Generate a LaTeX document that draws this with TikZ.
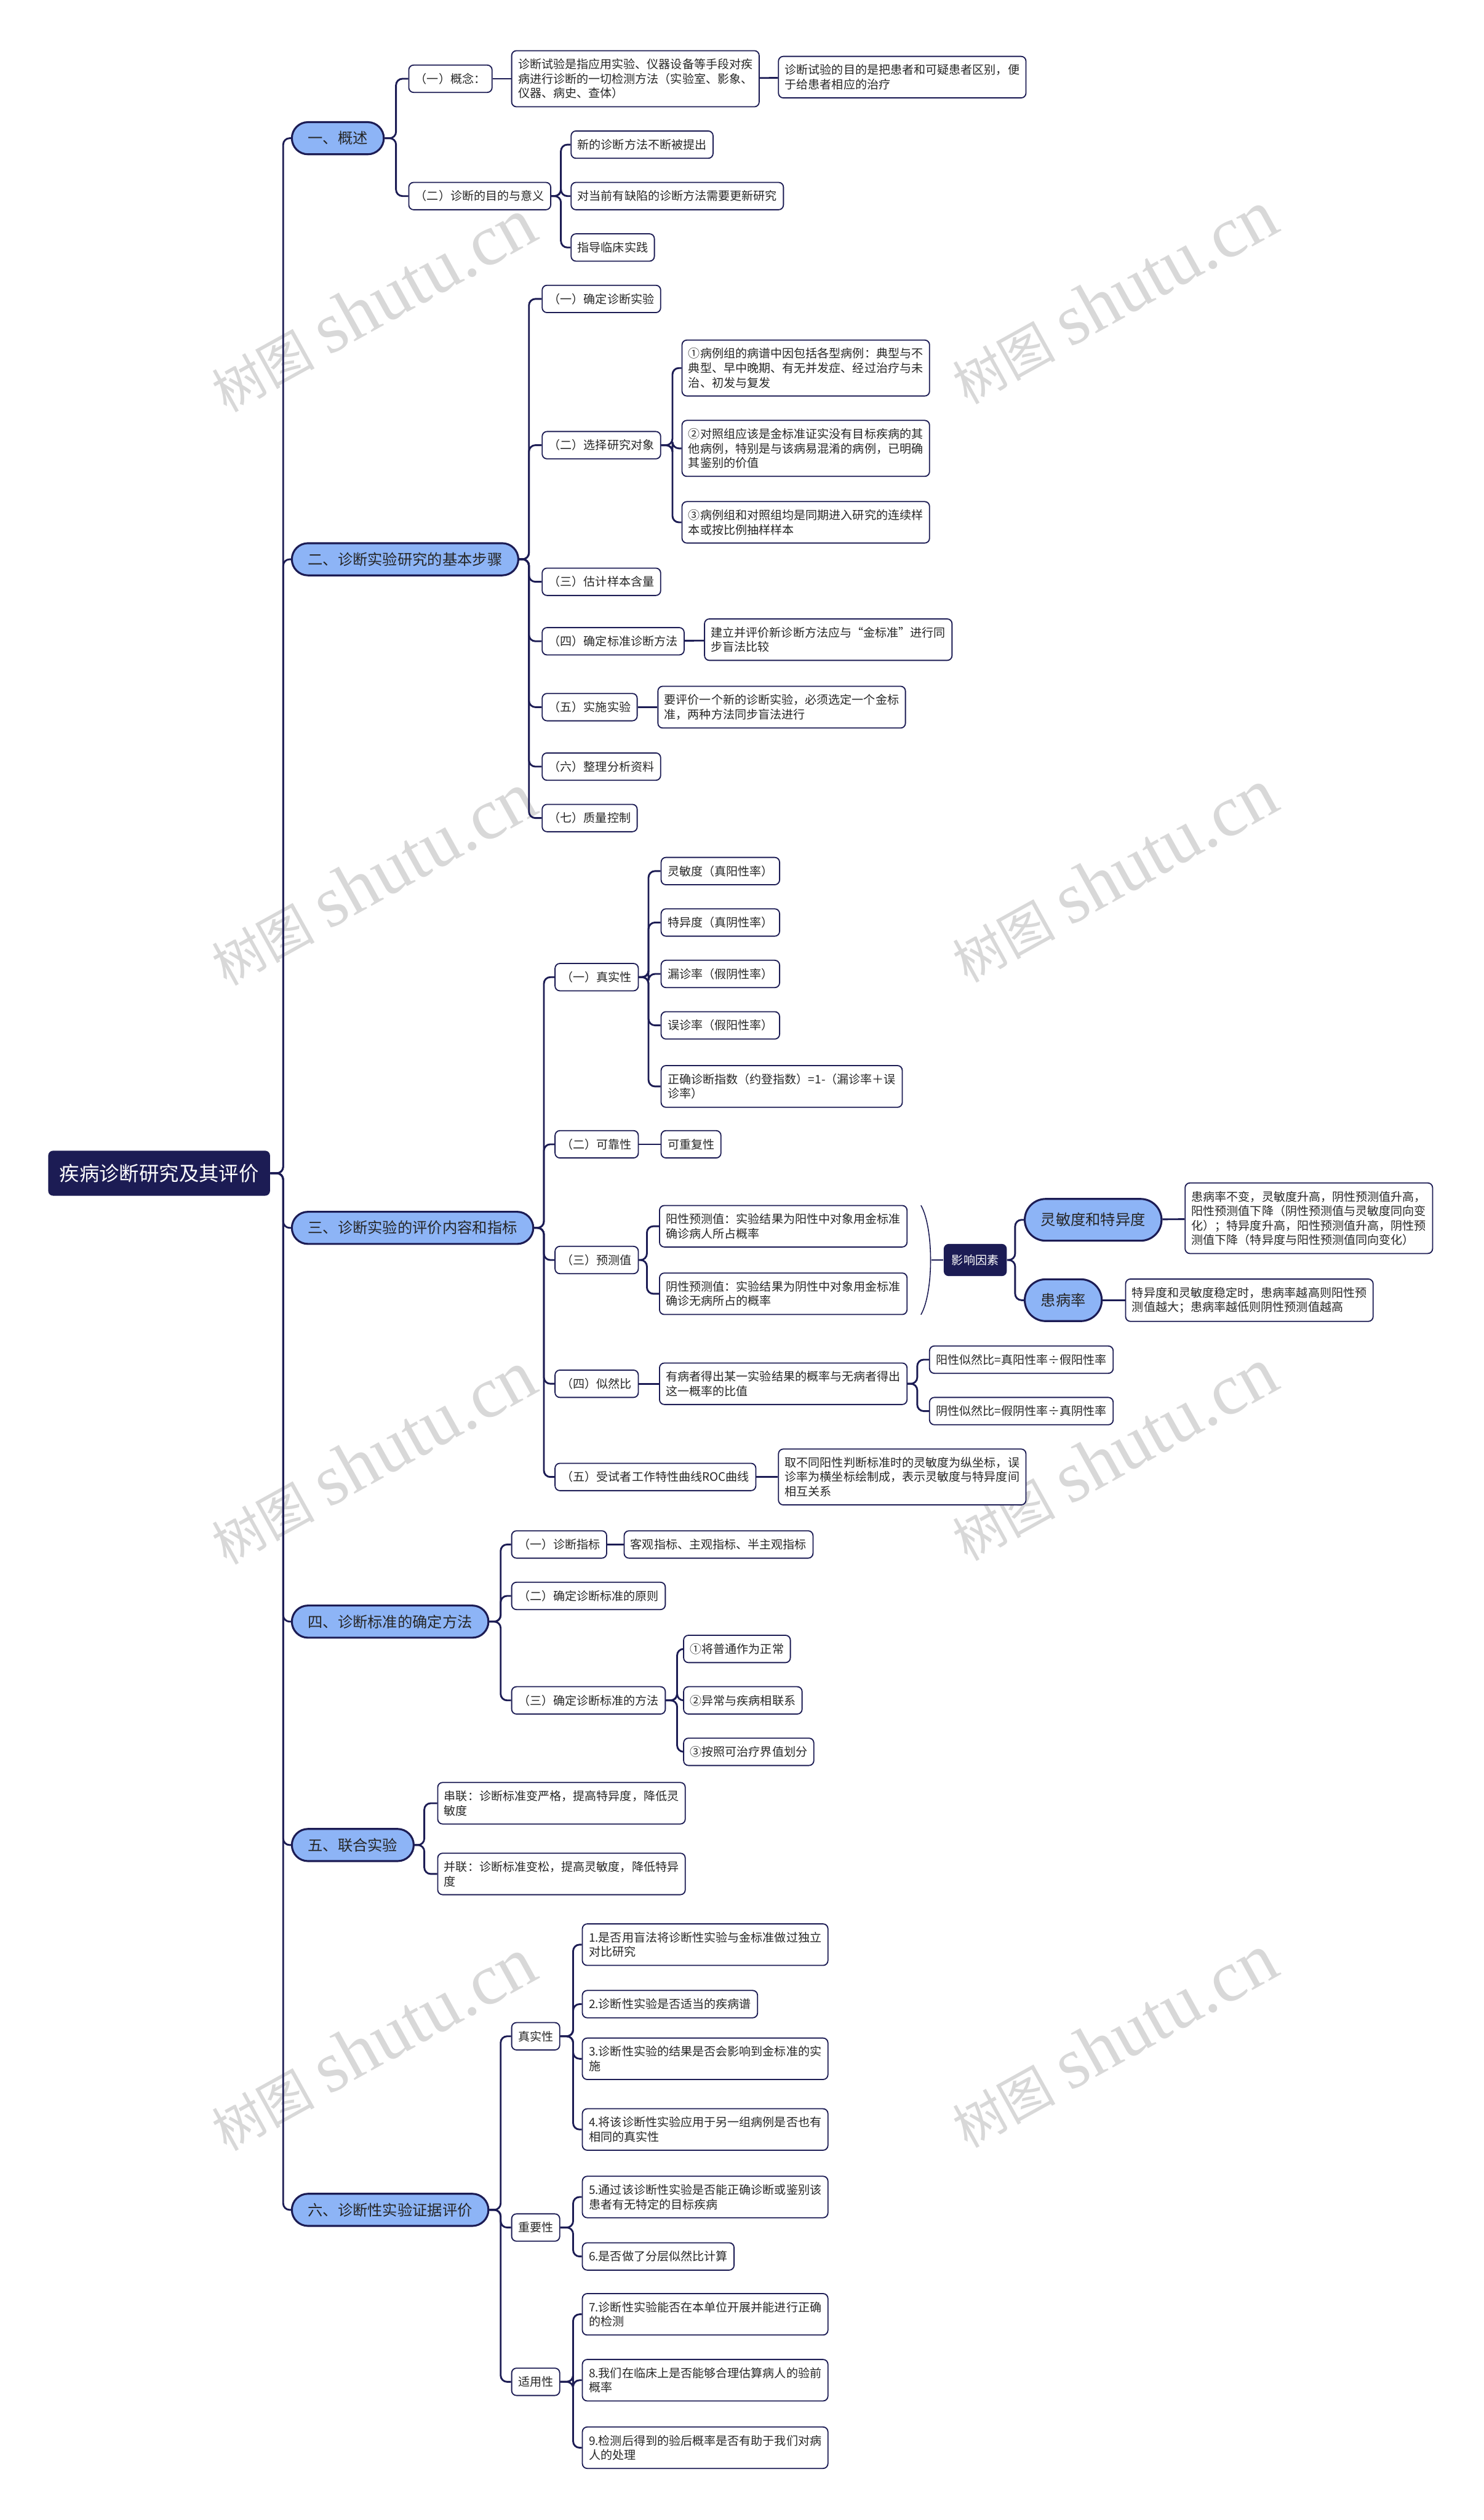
\documentclass[tikz,border=0pt]{standalone}
\usepackage{fontspec}
\setmainfont{Noto Sans CJK SC}
\newfontfamily\wmserif{Liberation Serif}
\definecolor{navy}{RGB}{28,28,84}
\definecolor{topicblue}{RGB}{141,180,246}
\definecolor{wmgray}{RGB}{216,216,216}

\begin{document}
\begin{tikzpicture}[
    x=1pt,y=-1pt,
    root/.style={fill=navy, text=white, rounded corners=3pt, font=\fontsize{12.4}{15}\selectfont,
      inner xsep=7pt, minimum height=28pt},
    topic/.style={draw=navy, line width=1.2pt, fill=topicblue, rounded corners=10pt, text=black!85,
      font=\fontsize{9.3}{11}\selectfont, inner xsep=10pt, minimum height=20pt},
    bigtopic/.style={topic, rounded corners=13pt, minimum height=26pt},
    item/.style={draw=navy, line width=0.7pt, fill=white, rounded corners=3pt, text=black!85,
      font=\fontsize{7.3}{9}\selectfont, inner xsep=4pt, inner ysep=5pt, minimum height=17pt, align=left},
    factor/.style={fill=navy, text=white, rounded corners=3pt, font=\fontsize{7.3}{9}\selectfont,
      inner xsep=5pt, minimum height=20pt},
    link/.style={draw=navy, line width=1.1pt, rounded corners=4pt},
    brace/.style={draw=navy, line width=0.6pt},
    wm/.style={text=wmgray, rotate=29, inner sep=0pt}
  ]
    \fill[white] (0,0) rectangle (923,1568);
    \useasboundingbox (0,0) rectangle (923,1568);

    % watermarks
    \foreach \wx/\wy [count=\i] in {232/190,693/185,232/547,693/545,232/907,693/905,232/1272,693/1270}
      \node[wm] (wm\i) at (\wx,\wy)
        {{\fontsize{32}{32}\selectfont 树图}\hspace{9pt}{\wmserif\fontsize{45}{45}\selectfont shutu.cn}};

    \node[root] (root) at (99,730) {疾病诊断研究及其评价};

    \node[topic, anchor=west] (s1) at (181,86) {一、概述};
    \node[topic, anchor=west] (s2) at (181,348) {二、诊断实验研究的基本步骤};
    \node[topic, anchor=west] (s3) at (181,764) {三、诊断实验的评价内容和指标};
    \node[topic, anchor=west] (s4) at (181,1009) {四、诊断标准的确定方法};
    \node[topic, anchor=west] (s5) at (181,1148) {五、联合实验};
    \node[topic, anchor=west] (s6) at (181,1375) {六、诊断性实验证据评价};

    % 一、概述
    \node[item, anchor=west] (a1) at (254,49) {（一）概念：};
    \node[item, anchor=west] (a1t) at (318,49)
      {诊断试验是指应用实验、仪器设备等手段对疾\\病进行诊断的一切检测方法（实验室、影象、\\仪器、病史、查体）};
    \node[item, anchor=west] (a1tt) at (484,48)
      {诊断试验的目的是把患者和可疑患者区别，便\\于给患者相应的治疗};
    \node[item, anchor=west] (a2) at (254,122) {（二）诊断的目的与意义};
    \node[item, anchor=west] (a2a) at (355,90) {新的诊断方法不断被提出};
    \node[item, anchor=west] (a2b) at (355,122) {对当前有缺陷的诊断方法需要更新研究};
    \node[item, anchor=west] (a2c) at (355,154) {指导临床实践};

    % 二、基本步骤
    \node[item, anchor=west] (b1) at (337,186) {（一）确定诊断实验};
    \node[item, anchor=west] (b2) at (337,277) {（二）选择研究对象};
    \node[item, anchor=west] (b2a) at (424,229)
      {①病例组的病谱中因包括各型病例：典型与不\\典型、早中晚期、有无并发症、经过治疗与未\\治、初发与复发};
    \node[item, anchor=west] (b2b) at (424,279)
      {②对照组应该是金标准证实没有目标疾病的其\\他病例，特别是与该病易混淆的病例，已明确\\其鉴别的价值};
    \node[item, anchor=west] (b2c) at (424,325)
      {③病例组和对照组均是同期进入研究的连续样\\本或按比例抽样样本};
    \node[item, anchor=west] (b3) at (337,362) {（三）估计样本含量};
    \node[item, anchor=west] (b4) at (337,399) {（四）确定标准诊断方法};
    \node[item, anchor=west] (b4a) at (438,398)
      {建立并评价新诊断方法应与“金标准”进行同\\步盲法比较};
    \node[item, anchor=west] (b5) at (337,440) {（五）实施实验};
    \node[item, anchor=west] (b5a) at (409,440)
      {要评价一个新的诊断实验，必须选定一个金标\\准，两种方法同步盲法进行};
    \node[item, anchor=west] (b6) at (337,477) {（六）整理分析资料};
    \node[item, anchor=west] (b7) at (337,509) {（七）质量控制};

    % 三、评价内容和指标
    \node[item, anchor=west] (c1) at (345,608) {（一）真实性};
    \node[item, anchor=west] (c1a) at (411,542) {灵敏度（真阳性率）};
    \node[item, anchor=west] (c1b) at (411,574) {特异度（真阴性率）};
    \node[item, anchor=west] (c1c) at (411,606) {漏诊率（假阴性率）};
    \node[item, anchor=west] (c1d) at (411,638) {误诊率（假阳性率）};
    \node[item, anchor=west] (c1e) at (411,676)
      {正确诊断指数（约登指数）=1-（漏诊率＋误\\诊率）};
    \node[item, anchor=west] (c2) at (345,712) {（二）可靠性};
    \node[item, anchor=west] (c2a) at (411,712) {可重复性};
    \node[item, anchor=west] (c3) at (345,784) {（三）预测值};
    \node[item, anchor=west] (c3a) at (410,763)
      {阳性预测值：实验结果为阳性中对象用金标准\\确诊病人所占概率};
    \node[item, anchor=west] (c3b) at (410,805)
      {阴性预测值：实验结果为阴性中对象用金标准\\确诊无病所占的概率};
    \node[factor, anchor=west] (f) at (587,784) {影响因素};
    \node[bigtopic, anchor=west] (f1) at (637,759) {灵敏度和特异度};
    \node[item, anchor=west] (f1a) at (737,758)
      {患病率不变，灵敏度升高，阴性预测值升高，\\阳性预测值下降（阴性预测值与灵敏度同向变\\化）；特异度升高，阳性预测值升高，阴性预\\测值下降（特异度与阳性预测值同向变化）};
    \node[bigtopic, anchor=west] (f2) at (637,809) {患病率};
    \node[item, anchor=west] (f2a) at (700,809)
      {特异度和灵敏度稳定时，患病率越高则阳性预\\测值越大；患病率越低则阴性预测值越高};
    \node[item, anchor=west] (c4) at (345,861) {（四）似然比};
    \node[item, anchor=west] (c4a) at (410,861)
      {有病者得出某一实验结果的概率与无病者得出\\这一概率的比值};
    \node[item, anchor=west] (c4b) at (578,846) {阳性似然比=真阳性率÷假阳性率};
    \node[item, anchor=west] (c4c) at (578,878) {阴性似然比=假阴性率÷真阴性率};
    \node[item, anchor=west] (c5) at (345,919) {（五）受试者工作特性曲线ROC曲线};
    \node[item, anchor=west] (c5a) at (484,919)
      {取不同阳性判断标准时的灵敏度为纵坐标，误\\诊率为横坐标绘制成，表示灵敏度与特异度间\\相互关系};

    % 四、诊断标准
    \node[item, anchor=west] (d1) at (318,961) {（一）诊断指标};
    \node[item, anchor=west] (d1a) at (388,961) {客观指标、主观指标、半主观指标};
    \node[item, anchor=west] (d2) at (318,993) {（二）确定诊断标准的原则};
    \node[item, anchor=west] (d3) at (318,1058) {（三）确定诊断标准的方法};
    \node[item, anchor=west] (d3a) at (425,1026) {①将普通作为正常};
    \node[item, anchor=west] (d3b) at (425,1058) {②异常与疾病相联系};
    \node[item, anchor=west] (d3c) at (425,1090) {③按照可治疗界值划分};

    % 五、联合实验
    \node[item, anchor=west] (e1) at (272,1122) {串联：诊断标准变严格，提高特异度，降低灵\\敏度};
    \node[item, anchor=west] (e2) at (272,1166) {并联：诊断标准变松，提高灵敏度，降低特异\\度};

    % 六、证据评价
    \node[item, anchor=west] (g1) at (318,1267) {真实性};
    \node[item, anchor=west] (g1a) at (362,1210) {1.是否用盲法将诊断性实验与金标准做过独立\\对比研究};
    \node[item, anchor=west] (g1b) at (362,1247) {2.诊断性实验是否适当的疾病谱};
    \node[item, anchor=west] (g1c) at (362,1281) {3.诊断性实验的结果是否会影响到金标准的实\\施};
    \node[item, anchor=west] (g1d) at (362,1325) {4.将该诊断性实验应用于另一组病例是否也有\\相同的真实性};
    \node[item, anchor=west] (g2) at (318,1386) {重要性};
    \node[item, anchor=west] (g2a) at (362,1367) {5.通过该诊断性实验是否能正确诊断或鉴别该\\患者有无特定的目标疾病};
    \node[item, anchor=west] (g2b) at (362,1404) {6.是否做了分层似然比计算};
    \node[item, anchor=west] (g3) at (318,1482) {适用性};
    \node[item, anchor=west] (g3a) at (362,1440) {7.诊断性实验能否在本单位开展并能进行正确\\的检测};
    \node[item, anchor=west] (g3b) at (362,1481) {8.我们在临床上是否能够合理估算病人的验前\\概率};
    \node[item, anchor=west] (g3c) at (362,1523) {9.检测后得到的验后概率是否有助于我们对病\\人的处理};

    % trunk
    \draw[link] (root.east) -- ++(8,0) |- (s1.west);
    \draw[link] (root.east) -- ++(8,0) |- (s2.west);
    \draw[link] (root.east) -- ++(8,0) |- (s3.west);
    \draw[link] (root.east) -- ++(8,0) |- (s4.west);
    \draw[link] (root.east) -- ++(8,0) |- (s5.west);
    \draw[link] (root.east) -- ++(8,0) |- (s6.west);

    \draw[link] (s1.east) -- ++(7,0) |- (a1.west);
    \draw[link] (s1.east) -- ++(7,0) |- (a2.west);
    \draw[link] (a1) -- (a1t);
    \draw[link] (a1t) -- (a1tt);
    \draw[link] (a2.east) -- ++(6,0) |- (a2a.west);
    \draw[link] (a2.east) -- ++(6,0) |- (a2b.west);
    \draw[link] (a2.east) -- ++(6,0) |- (a2c.west);

    \draw[link] (s2.east) -- ++(6,0) |- (b1.west);
    \draw[link] (s2.east) -- ++(6,0) |- (b2.west);
    \draw[link] (s2.east) -- ++(6,0) |- (b3.west);
    \draw[link] (s2.east) -- ++(6,0) |- (b4.west);
    \draw[link] (s2.east) -- ++(6,0) |- (b5.west);
    \draw[link] (s2.east) -- ++(6,0) |- (b6.west);
    \draw[link] (s2.east) -- ++(6,0) |- (b7.west);
    \draw[link] (b2.east) -- ++(7,0) |- (b2a.west);
    \draw[link] (b2.east) -- ++(7,0) |- (b2b.west);
    \draw[link] (b2.east) -- ++(7,0) |- (b2c.west);
    \draw[link] (b4) -- (b4a);
    \draw[link] (b5) -- (b5a);

    \draw[link] (s3.east) -- ++(6,0) |- (c1.west);
    \draw[link] (s3.east) -- ++(6,0) |- (c2.west);
    \draw[link] (s3.east) -- ++(6,0) |- (c3.west);
    \draw[link] (s3.east) -- ++(6,0) |- (c4.west);
    \draw[link] (s3.east) -- ++(6,0) |- (c5.west);
    \draw[link] (c1.east) -- ++(6,0) |- (c1a.west);
    \draw[link] (c1.east) -- ++(6,0) |- (c1b.west);
    \draw[link] (c1.east) -- ++(6,0) |- (c1c.west);
    \draw[link] (c1.east) -- ++(6,0) |- (c1d.west);
    \draw[link] (c1.east) -- ++(6,0) |- (c1e.west);
    \draw[link] (c2) -- (c2a);
    \draw[link] (c3.east) -- ++(5,0) |- (c3a.west);
    \draw[link] (c3.east) -- ++(5,0) |- (c3b.west);
    \coordinate (bt) at (573,750);
    \coordinate (bb) at (573,818);
    \coordinate (bm) at (579.5,784);
    \draw[brace] (bt) .. controls (581,764) and (581,804) .. (bb);
    \draw[link] (bm) -- (f.west);
    \draw[link] (f.east) -- ++(5,0) |- (f1.west);
    \draw[link] (f.east) -- ++(5,0) |- (f2.west);
    \draw[link] (f1) -- (f1a);
    \draw[link] (f2) -- (f2a);
    \draw[link] (c4) -- (c4a);
    \draw[link] (c4a.east) -- ++(6,0) |- (c4b.west);
    \draw[link] (c4a.east) -- ++(6,0) |- (c4c.west);
    \draw[link] (c5) -- (c5a);

    \draw[link] (s4.east) -- ++(7,0) |- (d1.west);
    \draw[link] (s4.east) -- ++(7,0) |- (d2.west);
    \draw[link] (s4.east) -- ++(7,0) |- (d3.west);
    \draw[link] (d1) -- (d1a);
    \draw[link] (d3.east) -- ++(7,0) |- (d3a.west);
    \draw[link] (d3.east) -- ++(7,0) |- (d3b.west);
    \draw[link] (d3.east) -- ++(7,0) |- (d3c.west);

    \draw[link] (s5.east) -- ++(6,0) |- (e1.west);
    \draw[link] (s5.east) -- ++(6,0) |- (e2.west);

    \draw[link] (s6.east) -- ++(7,0) |- (g1.west);
    \draw[link] (s6.east) -- ++(7,0) |- (g2.west);
    \draw[link] (s6.east) -- ++(7,0) |- (g3.west);
    \draw[link] (g1.east) -- ++(8,0) |- (g1a.west);
    \draw[link] (g1.east) -- ++(8,0) |- (g1b.west);
    \draw[link] (g1.east) -- ++(8,0) |- (g1c.west);
    \draw[link] (g1.east) -- ++(8,0) |- (g1d.west);
    \draw[link] (g2.east) -- ++(8,0) |- (g2a.west);
    \draw[link] (g2.east) -- ++(8,0) |- (g2b.west);
    \draw[link] (g3.east) -- ++(8,0) |- (g3a.west);
    \draw[link] (g3.east) -- ++(8,0) |- (g3b.west);
    \draw[link] (g3.east) -- ++(8,0) |- (g3c.west);
\end{tikzpicture}
\end{document}
